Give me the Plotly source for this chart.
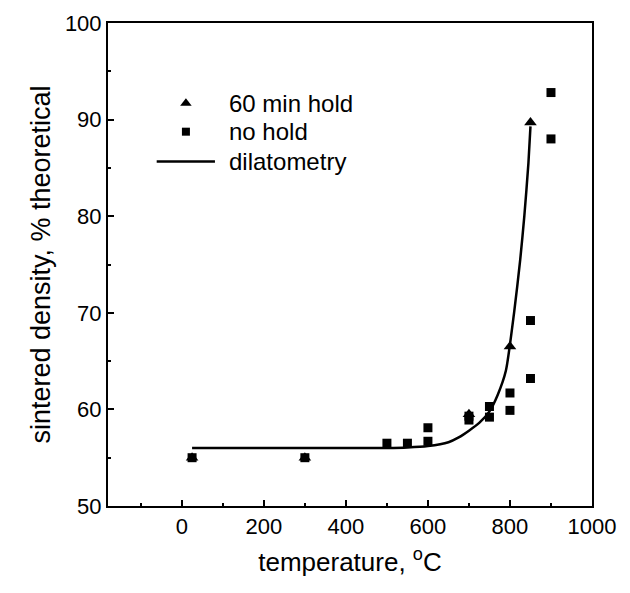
import plotly.graph_objects as go

# ---- data ----
hold_x = [25, 300, 700, 800, 850]
hold_y = [55.0, 55.0, 59.5, 66.5, 89.7]

nohold_x = [25, 300, 500, 550, 600, 600, 700, 700, 750, 750, 800, 800, 850, 850, 900, 900]
nohold_y = [55.0, 55.0, 56.5, 56.5, 56.7, 58.1, 58.9, 59.3, 59.2, 60.3, 59.9, 61.7, 63.2, 69.2, 88.0, 92.8]

dil_x = [25, 100, 200, 300, 400, 500, 550, 600, 650, 675, 700, 725, 750, 770, 790, 810, 825, 835, 845, 850]
dil_y = [56.0, 56.0, 56.0, 56.0, 56.0, 56.0, 56.05, 56.2, 56.6, 57.1, 57.8, 58.6, 59.8, 61.5, 64.0, 70.0, 75.5, 80.0, 85.5, 89.3]

legend_labels = ["60 min hold", "no hold", "dilatometry"]
x_ticks = [0, 200, 400, 600, 800, 1000]
y_ticks = [50, 60, 70, 80, 90, 100]

FONT = "Liberation Sans, Arial, sans-serif"

fig = go.Figure()
fig.add_trace(go.Scatter(x=dil_x, y=dil_y, mode="lines", line=dict(color="black", width=2.5, shape="spline", smoothing=0.6),
                         showlegend=False, name=legend_labels[2]))
fig.add_trace(go.Scatter(x=nohold_x, y=nohold_y, mode="markers",
                         marker=dict(symbol="square", size=9, color="black"), showlegend=False, name=legend_labels[1]))
fig.add_trace(go.Scatter(x=hold_x, y=hold_y, mode="markers",
                         marker=dict(symbol="triangle-up", size=11, color="black"), showlegend=False, name=legend_labels[0]))

# custom legend (overlay axes 0..1)
leg_x = 0.161
leg_rows = [0.834, 0.775, 0.713]
fig.add_trace(go.Scatter(x=[leg_x], y=[leg_rows[0]], xaxis="x2", yaxis="y2", mode="markers",
                         marker=dict(symbol="triangle-up", size=10, color="black"), showlegend=False, hoverinfo="skip"))
fig.add_trace(go.Scatter(x=[leg_x], y=[leg_rows[1]], xaxis="x2", yaxis="y2", mode="markers",
                         marker=dict(symbol="square", size=8, color="black"), showlegend=False, hoverinfo="skip"))
fig.add_trace(go.Scatter(x=[0.1006, 0.221], y=[leg_rows[2]] * 2, xaxis="x2", yaxis="y2", mode="lines",
                         line=dict(color="black", width=2.5), showlegend=False, hoverinfo="skip"))
for lab, yy in zip(legend_labels, leg_rows):
    fig.add_annotation(x=0.246, y=yy, xref="x2", yref="y2", text=lab, showarrow=False,
                       xanchor="left", yanchor="middle", font=dict(family=FONT, size=24, color="black"))

axis_common = dict(showline=True, linecolor="black", linewidth=2, mirror=True, showgrid=False,
                   zeroline=False, ticks="inside", tickcolor="black", tickwidth=2, ticklen=6,
                   tickfont=dict(family=FONT, size=22, color="black"))

fig.update_layout(
    width=630, height=593,
    margin=dict(l=108, r=38, t=23, b=87),
    paper_bgcolor="white", plot_bgcolor="white",
    xaxis=dict(range=[-180, 1000], tickvals=x_ticks, **axis_common,
               minor=dict(ticks="inside", dtick=100, tick0=0, ticklen=3, tickwidth=2, tickcolor="black"),
               title=dict(text="temperature, <sup>o</sup>C", font=dict(family=FONT, size=26, color="black"), standoff=14)),
    yaxis=dict(range=[50, 100], tickvals=y_ticks, **axis_common,
               minor=dict(ticks="inside", dtick=5, tick0=50, ticklen=3, tickwidth=2, tickcolor="black"),
               title=dict(text="sintered density, % theoretical", font=dict(family=FONT, size=27, color="black"), standoff=6)),
    xaxis2=dict(range=[0, 1], overlaying="x", visible=False, fixedrange=True),
    yaxis2=dict(range=[0, 1], overlaying="y", visible=False, fixedrange=True),
    font=dict(family=FONT, color="black"),
)

fig.write_html("out.html")
